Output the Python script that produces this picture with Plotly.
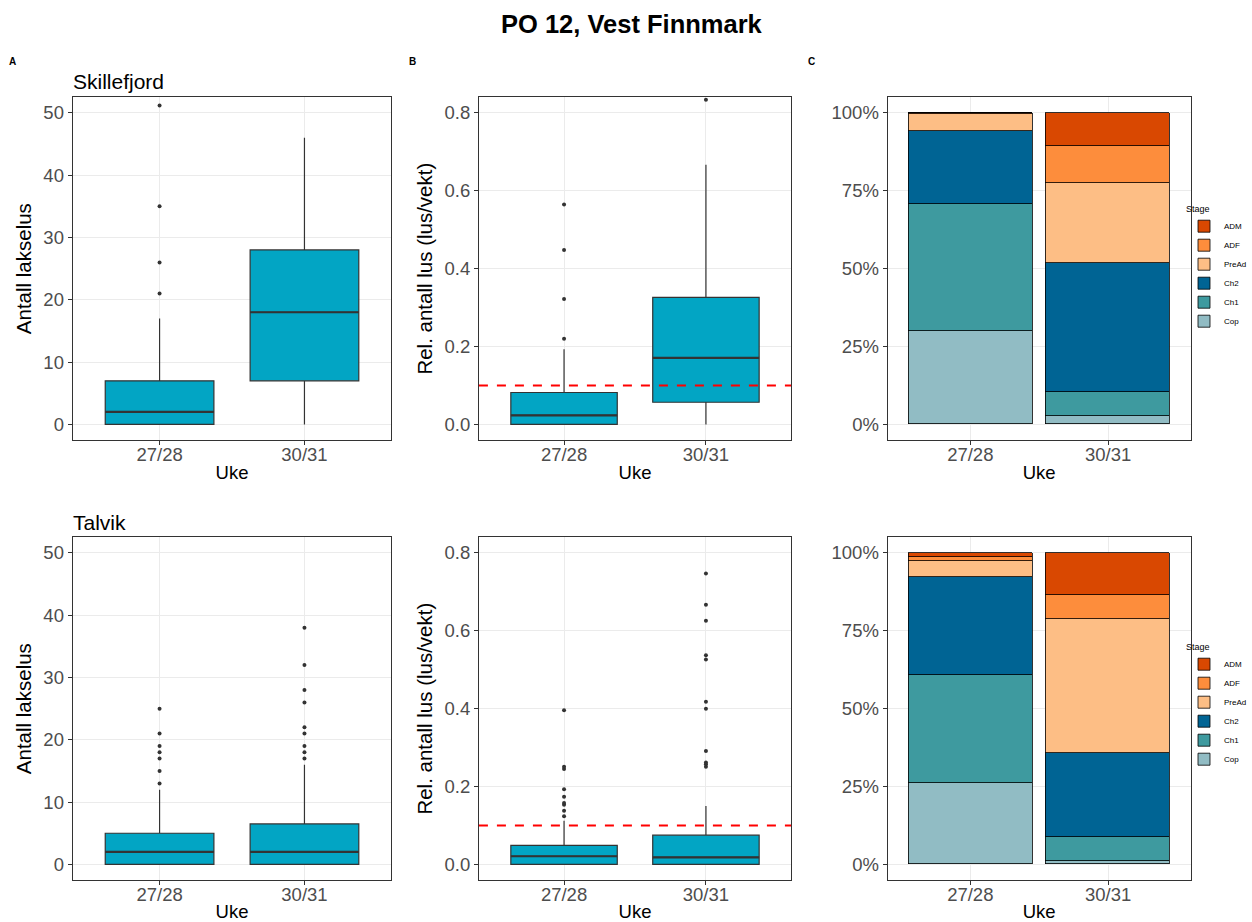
import plotly.graph_objects as go
from plotly.subplots import make_subplots

weeks = ["27/28", "30/31"]

# Antall lakselus per fisk (box stats)
sk_count_q1 = [0, 7]
sk_count_med = [2, 18]
sk_count_q3 = [7, 28]
sk_count_lo = [0, 0]
sk_count_hi = [17, 46]
sk_count_out = {"27/28": [21, 26, 35, 51.2], "30/31": []}

ta_count_q1 = [0, 0]
ta_count_med = [2, 2]
ta_count_q3 = [5, 6.5]
ta_count_lo = [0, 0]
ta_count_hi = [12, 16]
ta_count_out = {"27/28": [13, 15, 17, 18, 19, 21, 25],
                "30/31": [17, 18, 19, 21, 22, 26, 28, 32, 38]}

# Rel. antall lus (lus/vekt)
sk_rel_q1 = [0, 0.057]
sk_rel_med = [0.023, 0.171]
sk_rel_q3 = [0.082, 0.326]
sk_rel_lo = [0, 0]
sk_rel_hi = [0.193, 0.667]
sk_rel_out = {"27/28": [0.22, 0.322, 0.448, 0.565], "30/31": [0.834]}

ta_rel_q1 = [0, 0]
ta_rel_med = [0.021, 0.018]
ta_rel_q3 = [0.049, 0.075]
ta_rel_lo = [0, 0]
ta_rel_hi = [0.112, 0.150]
ta_rel_out = {"27/28": [0.124, 0.138, 0.153, 0.158, 0.174, 0.193, 0.245, 0.251, 0.396],
              "30/31": [0.251, 0.257, 0.262, 0.291, 0.400, 0.418, 0.526, 0.537,
                        0.626, 0.667, 0.747]}

threshold = 0.1

# stage shares (%)
stages = ["Cop", "Ch1", "Ch2", "PreAd", "ADF", "ADM"]
stage_colors = ["#91bcc4", "#3e9a9f", "#006494", "#fdbe85", "#fd8d3c", "#d94801"]
sk_stage = {"Cop": [29.9, 2.5], "Ch1": [40.8, 7.8], "Ch2": [23.4, 41.4],
            "PreAd": [5.4, 25.7], "ADF": [0.3, 11.8], "ADM": [0.2, 10.8]}
ta_stage = {"Cop": [25.9, 0.9], "Ch1": [34.9, 7.8], "Ch2": [31.5, 27.1],
            "PreAd": [5.0, 43.0], "ADF": [1.4, 7.7], "ADM": [1.3, 13.5]}

BOX_FILL = "#02a5c4"
FONT = "Arial, Liberation Sans, sans-serif"

W, H = 1252, 922


def fx(px):
    return px / W


def fy(py):
    return 1 - py / H


fig = make_subplots(rows=2, cols=3)


def add_box(row, col, q1, med, q3, lo, hi, outliers):
    fig.add_trace(go.Box(x=weeks, q1=q1, median=med, q3=q3,
                         lowerfence=lo, upperfence=hi,
                         fillcolor=BOX_FILL, line=dict(color="#333333", width=1.2),
                         width=0.75, whiskerwidth=0, boxpoints=False,
                         showlegend=False, hoverinfo="skip"), row=row, col=col)
    # thicker median bar, as in ggplot
    fig.add_trace(go.Box(x=weeks, q1=med, median=med, q3=med,
                         lowerfence=med, upperfence=med,
                         fillcolor="rgba(0,0,0,0)", line=dict(color="#333333", width=2.2),
                         width=0.75, whiskerwidth=0, boxpoints=False,
                         showlegend=False, hoverinfo="skip"), row=row, col=col)
    ox, oy = [], []
    for w in weeks:
        ox += [w] * len(outliers[w])
        oy += outliers[w]
    fig.add_trace(go.Scatter(x=ox, y=oy, mode="markers",
                             marker=dict(size=4, color="#333333"),
                             showlegend=False), row=row, col=col)


add_box(1, 1, sk_count_q1, sk_count_med, sk_count_q3, sk_count_lo, sk_count_hi, sk_count_out)
add_box(2, 1, ta_count_q1, ta_count_med, ta_count_q3, ta_count_lo, ta_count_hi, ta_count_out)
add_box(1, 2, sk_rel_q1, sk_rel_med, sk_rel_q3, sk_rel_lo, sk_rel_hi, sk_rel_out)
add_box(2, 2, ta_rel_q1, ta_rel_med, ta_rel_q3, ta_rel_lo, ta_rel_hi, ta_rel_out)

for row, data, lg in [(1, sk_stage, "legend"), (2, ta_stage, "legend2")]:
    for s, c in zip(stages, stage_colors):
        fig.add_trace(go.Bar(x=weeks, y=data[s], name=s, width=0.9,
                             marker=dict(color=c, line=dict(color="black", width=0.8)),
                             legend=lg, showlegend=True), row=row, col=3)

fig.update_layout(barmode="stack", boxmode="overlay")

# red threshold lines
for row in [1, 2]:
    fig.add_hline(y=threshold, line=dict(color="#ff0000", width=2, dash="dash"),
                  row=row, col=2)

xdom = [(72.7, 391.7), (479.3, 791.7), (888.3, 1191.7)]
ydom = [(97.3, 440), (537.3, 880)]
yranges = [[-2.5, 52.5], [-0.04, 0.84], [-5, 105]]

axis_style = dict(showline=True, mirror=True, linecolor="#333333", linewidth=1,
                  gridcolor="#ebebeb", gridwidth=1, zeroline=False, automargin=False,
                  ticks="outside", ticklen=4, tickcolor="#333333",
                  tickfont=dict(size=18.5, color="#4d4d4d", family=FONT))

for r in range(2):
    for c in range(3):
        idx = r * 3 + c + 1
        xa = "xaxis" if idx == 1 else f"xaxis{idx}"
        ya = "yaxis" if idx == 1 else f"yaxis{idx}"
        x0, x1 = xdom[c]
        y0, y1 = ydom[r]
        fig.layout[xa].update(domain=[fx(x0), fx(x1)], range=[-0.6, 1.6],
                              ticklabelstandoff=-6,
                              title=dict(text="Uke", font=dict(size=18.5, color="black", family=FONT),
                                         standoff=1),
                              **axis_style)
        if c == 0:
            yextra = dict(tickvals=[0, 10, 20, 30, 40, 50],
                          title=dict(text="Antall lakselus", standoff=6,
                                     font=dict(size=20.5, color="black", family=FONT)))
        elif c == 1:
            yextra = dict(tickvals=[0, 0.2, 0.4, 0.6, 0.8], tickformat=".1f",
                          title=dict(text="Rel. antall lus (lus/vekt)", standoff=6,
                                     font=dict(size=20.5, color="black", family=FONT)))
        else:
            yextra = dict(tickvals=[0, 25, 50, 75, 100],
                          ticktext=["0%", "25%", "50%", "75%", "100%"])
        fig.layout[ya].update(domain=[fy(y1), fy(y0)], range=yranges[c],
                              **axis_style, **yextra)

# legends must stay inside the paper, otherwise plotly grows the right margin
leg_style = dict(title=dict(text="Stage", font=dict(size=9, color="black")),
                 font=dict(size=8, color="black", family=FONT),
                 traceorder="reversed", xanchor="left", yanchor="top",
                 bgcolor="rgba(0,0,0,0)", itemwidth=30, tracegroupgap=0)
fig.update_layout(
    legend=dict(x=fx(1185), y=fy(200), **leg_style),
    legend2=dict(x=fx(1185), y=fy(638), **leg_style),
)

annots = [
    dict(text="<b>PO 12, Vest Finnmark</b>", x=fx(633), y=fy(24), size=25.5, xanchor="center"),
    dict(text="<b>A</b>", x=fx(7), y=fy(61), size=10, xanchor="left"),
    dict(text="<b>B</b>", x=fx(407), y=fy(61), size=10, xanchor="left"),
    dict(text="<b>C</b>", x=fx(807), y=fy(61), size=10, xanchor="left"),
    dict(text="Skillefjord", x=fx(71), y=fy(81), size=21, xanchor="left"),
    dict(text="Talvik", x=fx(71), y=fy(522), size=21, xanchor="left"),
]
for a in annots:
    fig.add_annotation(text=a["text"], x=a["x"], y=a["y"], xref="paper", yref="paper",
                       xanchor=a["xanchor"], yanchor="middle", showarrow=False,
                       font=dict(size=a["size"], color="black", family=FONT))

fig.update_layout(width=W, height=H, margin=dict(l=0, r=0, t=0, b=0),
                  plot_bgcolor="white", paper_bgcolor="white",
                  font=dict(family=FONT), bargap=0)

# drop the default page margin so the figure fills the window exactly
fig.write_html("out.html",
               config={"responsive": False, "displayModeBar": False},
               post_script="document.body.style.margin='0';document.body.style.overflow='hidden';")
